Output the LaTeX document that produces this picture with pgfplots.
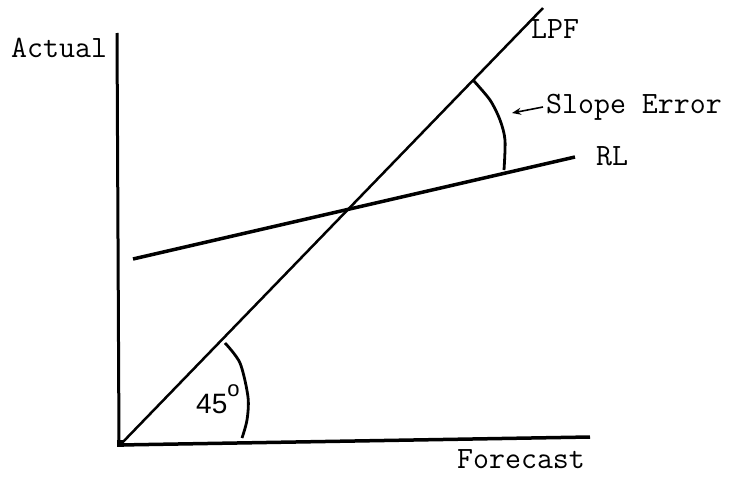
\documentclass[border=0pt]{standalone}
\usepackage{pgfplots}
\pgfplotsset{compat=1.18}
\usepackage{fontspec}
\newfontfamily\sansf{Liberation Sans}
\usetikzlibrary{arrows.meta}
\begin{document}
\begin{tikzpicture}
\begin{axis}[width=731pt,height=479pt,scale only axis,
  xmin=0,xmax=731,ymin=0,ymax=479,y dir=reverse,hide axis,clip=false]
% axes
\addplot[black,line width=3pt] coordinates {(117,33) (119,445)};
\addplot[black,line width=3.5pt] coordinates {(119,445) (590,437)};
\addplot[black,only marks,mark=square*,mark size=3pt] coordinates {(120,443)};
% LPF
\addplot[black,line width=2.5pt] coordinates {(120,445) (543,8)};
% RL
\addplot[black,line width=3.5pt] coordinates {(133,259) (575,157)};
% 45 deg arc
\addplot[black,line width=2.8pt,smooth] coordinates {(225,343) (240,363) (248,397) (247,420) (242,438)};
% slope error arc
\addplot[black,line width=2.8pt,smooth] coordinates {(473,80) (490,100) (500,120) (505,140) (504,170)};
% arrow
\addplot[black,line width=1.6pt,-{Stealth[length=9pt,width=7pt]}] coordinates {(543,107) (512,113)};
\tikzset{tw/.style={anchor=base west,font=\ttfamily\fontsize{31}{33}\selectfont,inner sep=0}}
\node[tw] at (axis cs:11,57) {Actual};
\node[tw] at (axis cs:531,38) {LPF};
\node[tw] at (axis cs:546,113) {Slope Error};
\node[tw] at (axis cs:596,165) {RL};
\node[tw] at (axis cs:457,468) {Forecast};
\node[anchor=base west,font=\sansf\fontsize{28}{30}\selectfont,inner sep=0] at (axis cs:196,413) {45\raisebox{17pt}{\fontsize{22}{22}\selectfont o}};
\end{axis}
\useasboundingbox (0,0) rectangle (731pt,479pt);
\end{tikzpicture}
\end{document}
